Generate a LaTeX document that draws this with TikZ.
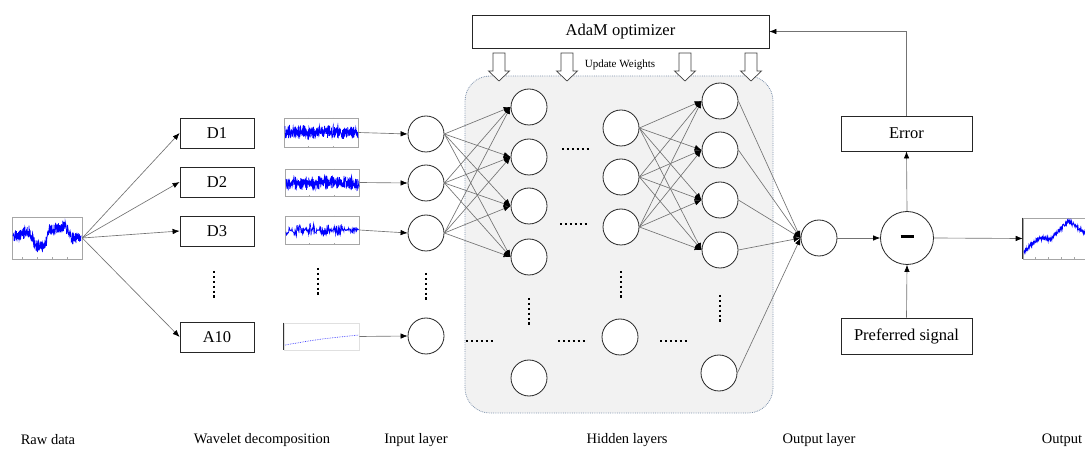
\documentclass[tikz,border=0pt]{standalone}
\usepackage{fontspec}
\setmainfont{Liberation Serif}
\usetikzlibrary{arrows.meta,calc}
\definecolor{panelborder}{HTML}{7F93AD}
\begin{document}
\begin{tikzpicture}[x=1pt,y=-1pt,
 neuron/.style={circle,draw=black!85,line width=0.8pt,fill=white,minimum size=36pt,inner sep=0pt},
 box/.style={draw=black!85,line width=0.8pt,fill=white,inner sep=0pt,font=\fontsize{16.5}{19}\selectfont},
 conn/.style={draw=black!55,line width=0.65pt,-{Latex[black,length=7pt,width=5.5pt]}},
 lbl/.style={font=\fontsize{14.5}{17}\selectfont},
 dotsh/.style={line width=2.3pt,dash pattern=on 2.3pt off 2.6pt},
 frame/.style={draw=black!35,line width=0.6pt,inner sep=0pt},
 sig/.style={draw=blue,line width=0.7pt},
 hollow/.style={draw=black!75,line width=0.7pt,fill=white},
 panel/.style={draw=panelborder,densely dotted,line width=0.8pt,fill=black!5,rounded corners=25pt,inner sep=0pt},
 declare function={ramp(\t,\a,\b)=min(max((\t-\a)/(\b-\a),0),1);}
]
\useasboundingbox (0,0) rectangle (1085,454);

% hidden panel
\node[panel,minimum width=308pt,minimum height=337pt] (panel) at (619,244.5) {};

% optimizer and update arrows
\node[box,minimum width=297pt,minimum height=33pt] (adam) at (620.5,31.5) {AdaM optimizer};
\foreach \x in {499,567,685,751}
  \draw[hollow] (\x-6,53) -- (\x+6,53) -- (\x+6,71) -- (\x+10.5,71) -- (\x,81) -- (\x-10.5,71) -- (\x-6,71) -- cycle;
\node[font=\fontsize{11}{13}\selectfont] (upd) at (620,65) {Update Weights};

% raw data plot
\node[frame,minimum width=70pt,minimum height=42pt] (raw) at (47,238) {};
\foreach \x in {22,37,52,67} {\draw[black!35,line width=0.4pt] (\x,259) -- (\x,257.5); \draw[black!35,line width=0.4pt] (\x,217) -- (\x,218.5);}
\pgfmathsetseed{11}
\draw[sig] plot[domain=13:81,samples=380] (\x,{236-4*ramp(\x,18,27)+14*ramp(\x,29,36)-16*ramp(\x,45,49)-4*ramp(\x,55,64)+12*ramp(\x,66,72)+(3.5+3*abs(sin(\x*41)))*rand});

% decomposition boxes
\node[box,minimum width=74pt,minimum height=30pt] (d1) at (217,133) {D1};
\node[box,minimum width=74pt,minimum height=30pt] (d2) at (217,182) {D2};
\node[box,minimum width=74pt,minimum height=30pt] (d3) at (217,231) {D3};
\node[box,minimum width=74pt,minimum height=30pt] (a10) at (217,337) {A10};
\foreach \j in {d1,d2,d3,a10} \draw[conn] (raw.east) -- (\j.west);

% wavelet plots
\node[frame,minimum width=74pt,minimum height=29pt] (pd1) at (321,132.5) {};
\node[frame,minimum width=74pt,minimum height=27pt] (pd2) at (322,182.5) {};
\node[frame,minimum width=74pt,minimum height=28pt] (pd3) at (322,230) {};
\node[frame,draw=black!12,minimum width=75pt,minimum height=27pt] (pa10) at (321.5,336.5) {};
\draw[black!80,line width=0.8pt] (pa10.north west) -- (pa10.south west);
\foreach \p in {pd1,pd2,pd3} \foreach \f in {0.33,0.66} {
  \draw[black!35,line width=0.4pt] ($(\p.south west)!\f!(\p.south east)$) -- ++(0,-1.5);
  \draw[black!35,line width=0.4pt] ($(\p.north west)!\f!(\p.north east)$) -- ++(0,1.5);}
\pgfmathsetseed{21}
\draw[sig] plot[domain=285:358,samples=360] (\x,{132+(3+4.5*abs(sin(\x*37)))*rand});
\pgfmathsetseed{31}
\draw[sig] plot[domain=286:359,samples=360] (\x,{183+(3+4.5*abs(sin(\x*29)))*rand});
\pgfmathsetseed{41}
\draw[sig] plot[domain=286:359,samples=170] (\x,{230+(1+6*abs(sin(\x*13)))*(1-0.7*ramp(\x,335,359))*rand});
\draw[blue!75,line width=0.7pt,densely dotted] (285,345) .. controls (320,339) .. (359,335);

% input layer
\node[neuron] (in1) at (426,134) {};
\node[neuron] (in2) at (426,183) {};
\node[neuron] (in3) at (426,233) {};
\node[neuron] (in4) at (426,336) {};
\draw[conn] (pd1.east) -- (in1.west);
\draw[conn] (pd2.east) -- (in2.west);
\draw[conn] (pd3.east) -- (in3.west);
\draw[conn] (pa10.east) -- (in4.west);

% hidden layers
\node[neuron] (h1a) at (529,107) {};
\node[neuron] (h1b) at (529,157) {};
\node[neuron] (h1c) at (529,206) {};
\node[neuron] (h1d) at (529,257) {};
\node[neuron] (h1e) at (529,378) {};
\node[neuron] (h2a) at (621,128) {};
\node[neuron] (h2b) at (621,177) {};
\node[neuron] (h2c) at (621,227) {};
\node[neuron] (h2d) at (620,337) {};
\node[neuron] (h3a) at (720,101) {};
\node[neuron] (h3b) at (720,150) {};
\node[neuron] (h3c) at (720,200) {};
\node[neuron] (h3d) at (720,250) {};
\node[neuron] (h3e) at (719,373) {};
\foreach \i in {in1,in2,in3} \foreach \j in {h1a,h1b,h1c,h1d} \draw[conn] (\i.east) -- (\j.west);
\foreach \i in {h2a,h2b,h2c} \foreach \j in {h3a,h3b,h3c,h3d} \draw[conn] (\i.east) -- (\j.west);

% output layer
\node[neuron] (out) at (819,238) {};
\foreach \i in {h3a,h3b,h3c,h3d,h3e} \draw[conn] (\i.east) -- (out.west);

% dots
\draw[dotsh] (214,271) -- (214,298);
\draw[dotsh] (318,268) -- (318,295);
\draw[dotsh] (426,273) -- (426,300);
\draw[dotsh] (529,298) -- (529,325);
\draw[dotsh] (621,271) -- (621,298);
\draw[dotsh] (720,295) -- (720,322);
\draw[dotsh] (562,149) -- (589,149);
\draw[dotsh] (560,224) -- (587,224);
\draw[dotsh] (466,341) -- (493,341);
\draw[dotsh] (558,341) -- (585,341);
\draw[dotsh] (660,341) -- (687,341);

% error path
\node[circle,draw=black!85,line width=0.8pt,fill=white,minimum size=53pt,inner sep=0pt] (minus) at (907,238) {\rule[0.6ex]{13pt}{3.2pt}};
\node[box,minimum width=131pt,minimum height=35pt] (err) at (906.5,133.5) {Error};
\node[box,minimum width=131pt,minimum height=36pt] (pref) at (906.5,336) {Preferred signal};
\draw[conn] (out.east) -- (minus.west);
\draw[conn] (minus.north) -- (err.south);
\draw[conn] (pref.north) -- (minus.south);
\draw[conn] (err.north) |- (adam.east);

% output plot
\node[frame,minimum width=74pt,minimum height=41pt] (pout) at (1060,238.5) {};
\foreach \x in {1035,1048,1061,1074} \draw[black!35,line width=0.4pt] (\x,259) -- (\x,257.5);
\draw[black!80,line width=0.6pt] (pout.north west) -- (pout.south west);
\pgfmathsetseed{51}
\draw[sig] plot[domain=1024:1085,samples=220] (\x,{252-12*ramp(\x,1024,1036)-2*ramp(\x,1036,1044)+2*ramp(\x,1044,1050)-19*ramp(\x,1050,1068)+12*ramp(\x,1068,1085)+2.2*rand});
\draw[conn] (minus.east) -- (pout.west);

% bottom labels
\node[lbl] (l1) at (48,440) {Raw data};
\node[lbl] (l2) at (262,440) {Wavelet decomposition};
\node[lbl] (l3) at (416,440) {Input layer};
\node[lbl] (l4) at (627,440) {Hidden layers};
\node[lbl] (l5) at (819,440) {Output layer};
\node[lbl] (l6) at (1062,440) {Output};
\end{tikzpicture}
\end{document}
